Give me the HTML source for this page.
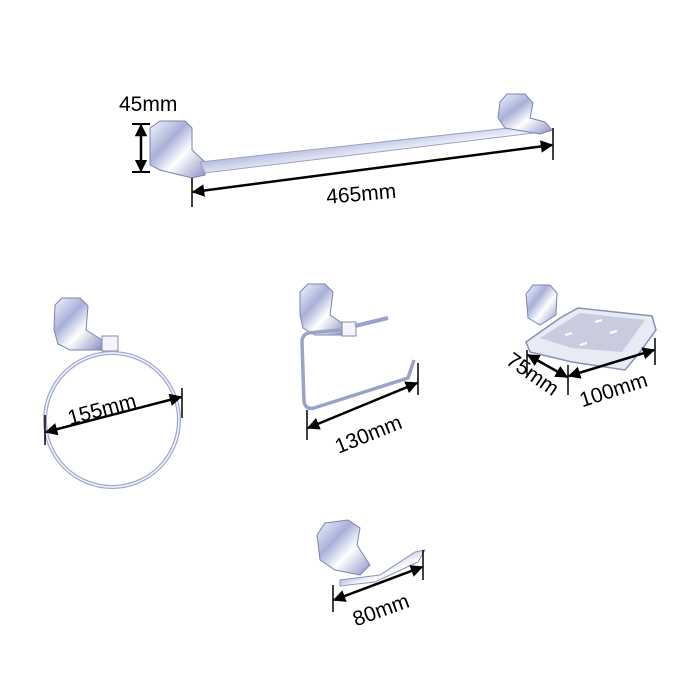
<!DOCTYPE html>
<html><head><meta charset="utf-8"><style>
html,body{margin:0;padding:0;background:#fff;}
svg{display:block}
text{font-family:"Liberation Sans",sans-serif;fill:#000;}
</style></head><body>
<svg width="700" height="700" viewBox="0 0 700 700" xmlns="http://www.w3.org/2000/svg">
<defs>
<linearGradient id="chr" x1="0" y1="0" x2="1" y2="1">
<stop offset="0" stop-color="#f4f6ff"/><stop offset="0.35" stop-color="#a8b0d8"/><stop offset="0.6" stop-color="#ffffff"/><stop offset="1" stop-color="#8890c0"/></linearGradient>
<marker id="ar" viewBox="0 0 10 10" refX="9" refY="5" markerWidth="5" markerHeight="5" orient="auto-start-reverse"><path d="M0,0L10,5L0,10z" fill="#000"/></marker>
</defs>

<!-- towel bar -->
<path d="M150,128 L160,121 L185,121 L192,128 L192,150 L205,162 L205,175 L192,178 L160,170 L150,165Z" fill="url(#chr)" stroke="#7a84b0" stroke-width="1"/>
<path d="M200,162 L545,124 L550,131 L205,173Z" fill="url(#chr)" stroke="#9aa2c8" stroke-width="1"/>
<path d="M500,102 L507,94 L525,94 L533,103 L530,118 L545,122 L552,130 L540,134 L505,128 L498,118Z" fill="url(#chr)" stroke="#7a84b0" stroke-width="1"/>
<line x1="132" y1="124" x2="150" y2="124" stroke="#000" stroke-width="2"/>
<line x1="132" y1="172" x2="150" y2="172" stroke="#000" stroke-width="2"/>
<line x1="141" y1="125" x2="141" y2="171" stroke="#000" stroke-width="2.5" marker-start="url(#ar)" marker-end="url(#ar)"/>
<text x="119" y="111" font-size="21">45mm</text>
<line x1="192" y1="178" x2="192" y2="207" stroke="#000" stroke-width="1.5"/>
<line x1="553" y1="128" x2="553" y2="160" stroke="#000" stroke-width="1.5"/>
<line x1="193" y1="192" x2="552" y2="145" stroke="#000" stroke-width="2.5" marker-start="url(#ar)" marker-end="url(#ar)"/>
<text x="326" y="200" font-size="21" transform="rotate(-5 370 192)">465mm</text>

<!-- ring -->
<path d="M55,305 L62,298 L80,298 L88,306 L86,330 L102,340 L102,350 L70,350 L58,344 L54,330Z" fill="url(#chr)" stroke="#7a84b0"/>
<rect x="102" y="336" width="16" height="15" fill="#f4f4ff" stroke="#889"/>
<circle cx="112" cy="420" r="67" fill="none" stroke="#a0a8cc" stroke-width="4"/>
<circle cx="112" cy="420" r="67" fill="none" stroke="#f4f6ff" stroke-width="1.5"/>
<line x1="45" y1="415" x2="45" y2="445" stroke="#000" stroke-width="1.5"/>
<line x1="182" y1="388" x2="182" y2="418" stroke="#000" stroke-width="1.5"/>
<line x1="46" y1="432" x2="181" y2="397" stroke="#000" stroke-width="2.5" marker-start="url(#ar)" marker-end="url(#ar)"/>
<text x="66" y="414" font-size="21" transform="rotate(-15 110 405)">155mm</text>

<!-- paper holder -->
<path d="M300,292 L308,284 L325,284 L333,292 L330,315 L345,325 L345,335 L315,335 L303,328 L300,315Z" fill="url(#chr)" stroke="#7a84b0"/>
<rect x="342" y="322" width="14" height="14" fill="#f4f4ff" stroke="#889"/>
<line x1="355" y1="326" x2="388" y2="318" stroke="#9aa2c8" stroke-width="4"/>
<path d="M340,330 L308,333 Q302,335 302,342 L304,402 Q306,410 314,408 L408,378 L414,360" fill="none" stroke="#9aa2c8" stroke-width="3.5"/>
<line x1="307" y1="410" x2="307" y2="440" stroke="#000" stroke-width="1.5"/>
<line x1="418" y1="363" x2="418" y2="395" stroke="#000" stroke-width="1.5"/>
<line x1="308" y1="428" x2="417" y2="383" stroke="#000" stroke-width="2.5" marker-start="url(#ar)" marker-end="url(#ar)"/>
<text x="330" y="440" font-size="21" transform="rotate(-22 370 425)">130mm</text>

<!-- soap dish -->
<path d="M526,294 L533,285 L550,285 L557,293 L556,315 L540,325 L528,318Z" fill="url(#chr)" stroke="#7a84b0"/>
<path d="M526,342 L560,318 L578,308 L652,316 L656,330 L640,352 L625,370 L572,362 L530,352 Z" fill="#e8eaf4" stroke="#8890b8" stroke-width="1.5"/>
<path d="M540,338 L580,313 L645,320 L622,352 L572,348Z" fill="#c8ccde"/>
<line x1="565" y1="335" x2="572" y2="333" stroke="#fff" stroke-width="2"/>
<line x1="595" y1="322" x2="602" y2="320" stroke="#fff" stroke-width="2"/>
<line x1="610" y1="333" x2="617" y2="331" stroke="#fff" stroke-width="2"/>
<line x1="580" y1="345" x2="587" y2="343" stroke="#fff" stroke-width="2"/>
<line x1="527" y1="350" x2="527" y2="375" stroke="#000" stroke-width="1.5"/>
<line x1="568" y1="365" x2="568" y2="395" stroke="#000" stroke-width="1.5"/>
<line x1="655" y1="338" x2="655" y2="365" stroke="#000" stroke-width="1.5"/>
<line x1="528" y1="355" x2="567" y2="377" stroke="#000" stroke-width="2.5" marker-start="url(#ar)" marker-end="url(#ar)"/>
<line x1="569" y1="376" x2="654" y2="350" stroke="#000" stroke-width="2.5" marker-start="url(#ar)" marker-end="url(#ar)"/>
<text x="502" y="378" font-size="21" transform="rotate(35 527 375)">75mm</text>
<text x="576" y="396" font-size="21" transform="rotate(-18 615 382)">100mm</text>

<!-- hook -->
<path d="M317,535 L325,523 L348,520 L360,528 L357,545 L370,565 L360,575 L335,570 L320,560Z" fill="url(#chr)" stroke="#7a84b0"/>
<path d="M340,580 L380,575 L415,552 L425,550 L418,562 L375,582 L340,586Z" fill="url(#chr)" stroke="#8a94c0"/>
<line x1="333" y1="585" x2="333" y2="612" stroke="#000" stroke-width="1.5"/>
<line x1="423" y1="550" x2="423" y2="580" stroke="#000" stroke-width="1.5"/>
<line x1="334" y1="600" x2="422" y2="567" stroke="#000" stroke-width="2.5" marker-start="url(#ar)" marker-end="url(#ar)"/>
<text x="350" y="617" font-size="21" transform="rotate(-20 380 605)">80mm</text>
</svg>
</body></html>
